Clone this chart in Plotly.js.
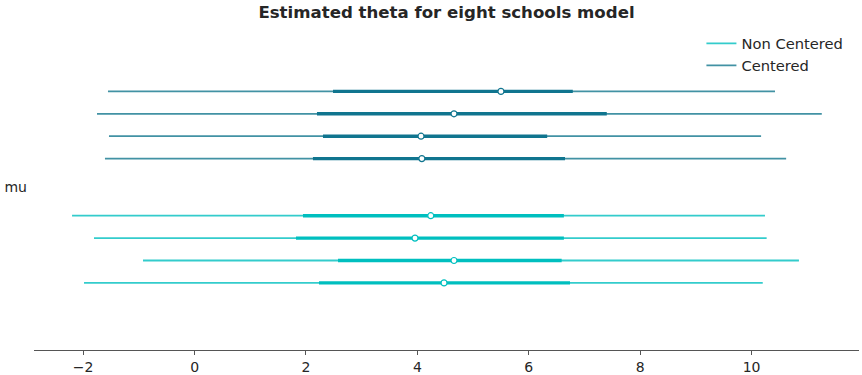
<!DOCTYPE html>
<html>
<head>
<meta charset="utf-8">
<script src="https://cdn.plot.ly/plotly-3.0.1.min.js"></script>
<style>html,body{margin:0;padding:0;background:#fff;}#chart{width:862px;height:375px;}</style>
</head>
<body>
<div id="chart"></div>
<script>
// Models and chains (top to bottom within each model: chain 0..3)
const models = ["Centered", "Non Centered"];
const chainY_centered = [8.55, 7.55, 6.55, 5.55];
const chainY_noncentered = [3.0, 2.0, 1.0, 0.0];

// Centered: 94% HDI (thin), IQR-ish (thick), median
const c_low  = [-1.555, -1.752, -1.537, -1.609];
const c_high = [10.42, 11.26, 10.17, 10.62];
const c_q1   = [2.485, 2.197, 2.305, 2.125];
const c_q3   = [6.79, 7.40, 6.33, 6.65];
const c_med  = [5.50, 4.657, 4.065, 4.08];

// Non Centered
const nc_low  = [-2.20, -1.806, -0.926, -1.985];
const nc_high = [10.24, 10.27, 10.85, 10.20];
const nc_q1   = [1.946, 1.82, 2.575, 2.233];
const nc_q3   = [6.63, 6.63, 6.59, 6.74];
const nc_med  = [4.24, 3.957, 4.657, 4.478];

const yTickVals = [4.275];
const yTickText = ["mu"];
const xTickVals = [-2, 0, 2, 4, 6, 8, 10];

const colors = {
  "Centered": {thin: "#4292a4", thick: "#10758f"},
  "Non Centered": {thin: "#33cccc", thick: "#00bfbf"}
};

const traces = [];
function addModel(name, ys, lo, hi, q1, q3, med, legendrank) {
  const col = colors[name];
  for (let i = 0; i < ys.length; i++) {
    traces.push({
      type: "scatter", mode: "lines",
      x: [lo[i], hi[i]], y: [ys[i], ys[i]],
      line: {color: col.thin, width: 1.8},
      name: name, legendgroup: name, showlegend: i === 0, legendrank: legendrank,
      hoverinfo: "skip"
    });
    traces.push({
      type: "scatter", mode: "lines",
      x: [q1[i], q3[i]], y: [ys[i], ys[i]],
      line: {color: col.thick, width: 3.4},
      legendgroup: name, showlegend: false, hoverinfo: "skip"
    });
    traces.push({
      type: "scatter", mode: "markers",
      x: [med[i]], y: [ys[i]],
      marker: {color: "#ffffff", size: 6, line: {color: col.thick, width: 1.2}},
      legendgroup: name, showlegend: false
    });
  }
}
addModel("Non Centered", chainY_noncentered, nc_low, nc_high, nc_q1, nc_q3, nc_med, 1);
addModel("Centered", chainY_centered, c_low, c_high, c_q1, c_q3, c_med, 2);

const layout = {
  width: 862, height: 375,
  margin: {l: 34, r: 3, t: 25, b: 25},
  paper_bgcolor: "#ffffff", plot_bgcolor: "#ffffff",
  font: {family: "DejaVu Sans", size: 14, color: "#262626"},
  title: {
    text: "<b>Estimated theta for eight schools model</b>",
    font: {family: "DejaVu Sans", size: 16.6, color: "#262626"},
    x: 0.5, xanchor: "center", y: 0.968, yanchor: "middle", xref: "paper"
  },
  xaxis: {
    range: [-2.883, 11.928],
    tickvals: xTickVals,
    showgrid: false, zeroline: false,
    showline: true, linecolor: "#555555", linewidth: 1,
    ticks: "outside", ticklen: 4, tickcolor: "#555555",
    tickfont: {size: 14, color: "#262626"},
    fixedrange: true
  },
  yaxis: {
    range: [-2.995, 11.515],
    tickvals: yTickVals, ticktext: yTickText,
    showgrid: false, zeroline: false, showline: false, ticks: "",
    ticklabelstandoff: 6,
    tickfont: {size: 14, color: "#262626"},
    automargin: false,
    fixedrange: true
  },
  showlegend: true,
  legend: {
    x: 0.809, xanchor: "left", y: 0.993, yanchor: "top",
    bgcolor: "rgba(0,0,0,0)",
    font: {size: 14.7, color: "#262626"},
    tracegroupgap: 0, itemwidth: 30
  }
};

Plotly.newPlot("chart", traces, layout, {displayModeBar: false, staticPlot: true});
</script>
</body>
</html>
